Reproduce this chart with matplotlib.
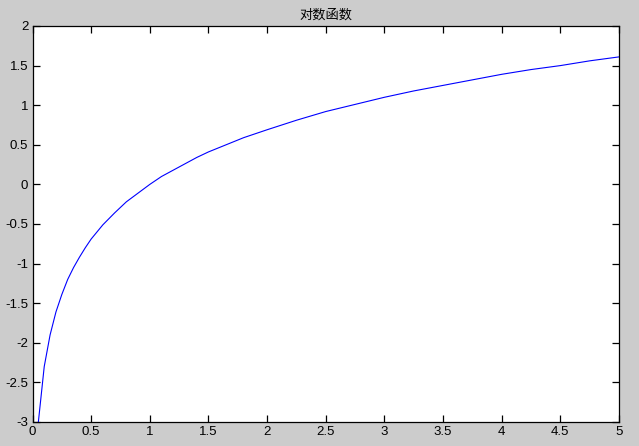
import matplotlib
matplotlib.use("Agg")
import matplotlib.pyplot as plt

# Values
x = [0.05, 0.10, 0.15, 0.20, 0.25, 0.30, 0.35, 0.40, 0.45, 0.50, 0.60, 0.70, 0.80, 0.90,
     1.00, 1.10, 1.20, 1.30, 1.40, 1.50, 1.60, 1.80, 2.00, 2.25, 2.50, 2.75, 3.00,
     3.25, 3.50, 3.75, 4.00, 4.25, 4.50, 4.75, 5.00]
y = [-3.00, -2.30, -1.90, -1.61, -1.39, -1.20, -1.05, -0.92, -0.80, -0.69, -0.51, -0.36,
     -0.22, -0.11, 0.00, 0.10, 0.18, 0.26, 0.34, 0.41, 0.47, 0.59, 0.69, 0.81, 0.92,
     1.01, 1.10, 1.18, 1.25, 1.32, 1.39, 1.45, 1.50, 1.56, 1.61]

xticks = [0, 0.5, 1, 1.5, 2, 2.5, 3, 3.5, 4, 4.5, 5]
xticklabels = ["0", "0.5", "1", "1.5", "2", "2.5", "3", "3.5", "4", "4.5", "5"]
yticks = [-3, -2.5, -2, -1.5, -1, -0.5, 0, 0.5, 1, 1.5, 2]
yticklabels = ["-3", "-2.5", "-2", "-1.5", "-1", "-0.5", "0", "0.5", "1", "1.5", "2"]
title = "对数函数"

fig = plt.figure(figsize=(6.39, 4.46), dpi=100, facecolor="#cccccc")
ax = fig.add_axes([32.5 / 639, 24 / 446, (619 - 32.5) / 639, (422 - 26) / 446])
ax.set_facecolor("white")
ax.plot(x, y, color="#0000ff", linewidth=0.8)
ax.set_xlim(0, 5)
ax.set_ylim(-3, 2)
ax.set_xticks(xticks)
ax.set_xticklabels(xticklabels)
ax.set_yticks(yticks)
ax.set_yticklabels(yticklabels)
ax.tick_params(direction="in", length=5, width=0.9, top=True, right=True,
               labelsize=9.5, colors="black", pad=3)
for lbl in ax.get_xticklabels() + ax.get_yticklabels():
    lbl.set_fontfamily("Liberation Sans")
for s in ax.spines.values():
    s.set_linewidth(0.9)
ax.set_title(title, fontsize=9.5, family=["Noto Sans CJK SC", "DejaVu Sans"], pad=5)
fig.savefig("out.png", dpi=100, facecolor=fig.get_facecolor())
